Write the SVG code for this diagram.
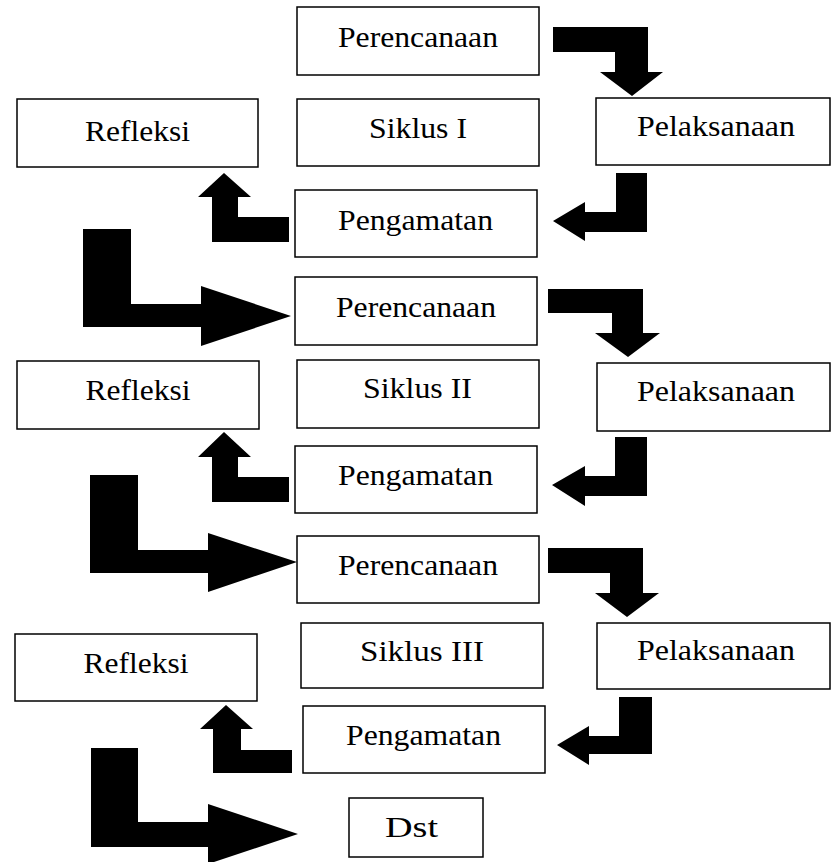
<svg xmlns="http://www.w3.org/2000/svg" width="831" height="862" viewBox="0 0 831 862">
<style>
.box{fill:#fff;stroke:#000;stroke-width:1.5}
.t{font-family:"Liberation Serif","Times New Roman",serif;font-size:30px;fill:#000;text-anchor:middle}
.arr{fill:#000;stroke:none}
</style>
<rect x="0" y="0" width="831" height="862" fill="#fff"/>
<g id="connectors">
<polygon class="arr" points="553,27 648,27 648,72 663,72 632,96 600,72 615,72 615,52 553,52"/>
<polygon class="arr" points="616,173 647,173 647,232 585,232 585,241 553,221 585,202 585,212 616,212"/>
<polygon class="arr" points="224,173 251,197 238,197 238,217 289,217 289,242 212,242 212,197 198,197"/>
<polygon class="arr" points="83,229 131,229 131,304 201,304 201,286 291,316 201,346 201,327 83,327"/>
<polygon class="arr" points="548,289 643,289 643,333 660,333 628,357 595,333 612,333 612,313 548,313"/>
<polygon class="arr" points="615,437 647,437 647,496 585,496 585,506 552,485 585,466 585,476 615,476"/>
<polygon class="arr" points="224,432 251,457 238,457 238,477 289,477 289,502 212,502 212,457 198,457"/>
<polygon class="arr" points="90,475 138,475 138,550 208,550 208,533 297,562 208,592 208,573 90,573"/>
<polygon class="arr" points="548,548 643,548 643,593 659,593 627,617 595,593 610,593 610,573 548,573"/>
<polygon class="arr" points="619,697 652,697 652,754 589,754 589,765 557,745 589,726 589,736 619,736"/>
<polygon class="arr" points="226,705 253,729 241,729 241,750 292,750 292,773 213,773 213,729 200,729"/>
<polygon class="arr" points="91,748 138,748 138,822 208,822 208,804 298,834 208,864 208,847 91,847"/>
</g>
<g id="perencanaan1"><rect class="box" x="297" y="7" width="242" height="68"/><text class="t" x="418" y="47" textLength="160" lengthAdjust="spacingAndGlyphs">Perencanaan</text></g>
<g id="siklus1"><rect class="box" x="297" y="99" width="242" height="67"/><text class="t" x="418" y="138" textLength="98" lengthAdjust="spacingAndGlyphs">Siklus I</text></g>
<g id="pelaksanaan1"><rect class="box" x="596" y="98" width="234" height="67"/><text class="t" x="716" y="136" textLength="158" lengthAdjust="spacingAndGlyphs">Pelaksanaan</text></g>
<g id="refleksi1"><rect class="box" x="17" y="99" width="241" height="68"/><text class="t" x="137.5" y="141" textLength="105" lengthAdjust="spacingAndGlyphs">Refleksi</text></g>
<g id="pengamatan1"><rect class="box" x="295" y="190" width="242" height="67"/><text class="t" x="415.5" y="230" textLength="155" lengthAdjust="spacingAndGlyphs">Pengamatan</text></g>
<g id="perencanaan2"><rect class="box" x="295" y="277" width="242" height="68"/><text class="t" x="416" y="317" textLength="160" lengthAdjust="spacingAndGlyphs">Perencanaan</text></g>
<g id="siklus2"><rect class="box" x="297" y="360" width="242" height="68"/><text class="t" x="417.5" y="398" textLength="109" lengthAdjust="spacingAndGlyphs">Siklus II</text></g>
<g id="pelaksanaan2"><rect class="box" x="597" y="363" width="233" height="68"/><text class="t" x="716" y="401" textLength="158" lengthAdjust="spacingAndGlyphs">Pelaksanaan</text></g>
<g id="refleksi2"><rect class="box" x="17" y="361" width="242" height="68"/><text class="t" x="138" y="400" textLength="105" lengthAdjust="spacingAndGlyphs">Refleksi</text></g>
<g id="pengamatan2"><rect class="box" x="295" y="446" width="242" height="67"/><text class="t" x="415.5" y="485" textLength="155" lengthAdjust="spacingAndGlyphs">Pengamatan</text></g>
<g id="perencanaan3"><rect class="box" x="297" y="536" width="242" height="67"/><text class="t" x="418" y="575" textLength="160" lengthAdjust="spacingAndGlyphs">Perencanaan</text></g>
<g id="siklus3"><rect class="box" x="301" y="623" width="242" height="65"/><text class="t" x="422" y="661" textLength="124" lengthAdjust="spacingAndGlyphs">Siklus III</text></g>
<g id="pelaksanaan3"><rect class="box" x="597" y="623" width="233" height="66"/><text class="t" x="716" y="660" textLength="158" lengthAdjust="spacingAndGlyphs">Pelaksanaan</text></g>
<g id="refleksi3"><rect class="box" x="15" y="634" width="242" height="67"/><text class="t" x="136" y="673" textLength="105" lengthAdjust="spacingAndGlyphs">Refleksi</text></g>
<g id="pengamatan3"><rect class="box" x="303" y="706" width="242" height="67"/><text class="t" x="423.5" y="745" textLength="155" lengthAdjust="spacingAndGlyphs">Pengamatan</text></g>
<g id="dst"><rect class="box" x="349" y="798" width="134" height="59"/><text class="t" x="411.5" y="837" textLength="53" lengthAdjust="spacingAndGlyphs">Dst</text></g>
</svg>
